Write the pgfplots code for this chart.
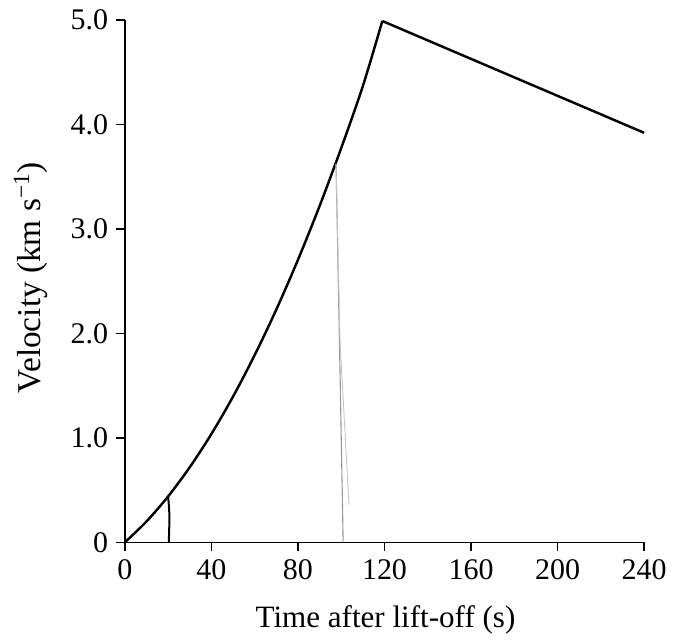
\documentclass[border=0pt]{standalone}
\usepackage{fontspec}
\setmainfont{Liberation Serif}
\usepackage{pgfplots}
\pgfplotsset{compat=1.18}

\begin{document}
\begin{tikzpicture}
\begin{axis}[
  scale only axis, width=234pt, height=235.4pt,
  xmin=0, xmax=240, ymin=0, ymax=5,
  axis lines=left, axis line style={-, line width=0.6pt},
  tick align=outside, major tick length=4pt,
  tick style={black, line width=0.6pt},
  xtick={0,40,80,120,160,200,240},
  ytick={0,1,2,3,4,5},
  yticklabels={0,1.0,2.0,3.0,4.0,5.0},
  /pgf/number format/assume math mode=true,
  tick label style={font=\fontsize{13.5}{15}\selectfont},
  label style={font=\fontsize{14}{16}\selectfont},
  xlabel={Time after lift-off (s)},
  ylabel={Velocity (km s\textsuperscript{\char"2212 1})},
  xlabel style={at={(rel axis cs:0.502,-0.1625)}, anchor=base},
  ylabel style={at={(rel axis cs:-0.181,0.507)}, anchor=center, font=\fontsize{15}{17}\selectfont},
  clip=false,
]
% bounding box matching the reference proportions
\path[use as bounding box] (rel axis cs:-0.2404,-0.174) rectangle (rel axis cs:1.0558,1.0382);
% velocity curve
\addplot[black, line width=1.1pt, smooth] coordinates {
  (0,0) (10,0.200) (20,0.440) (30,0.719) (40,1.037) (50,1.395)
  (60,1.792) (70,2.228) (80,2.704) (90,3.219) (100,3.774) (110,4.367) (119,4.99)
};
\addplot[black, line width=1.1pt] coordinates {(119,4.99) (240,3.92)};
% hand marks
\addplot[black, line width=0.9pt, smooth] coordinates {(20,0.44) (20.6,0.25) (20.3,0)};
\addplot[gray!80, line width=0.5pt] coordinates {(97.6,3.62) (99.3,1.8) (100.9,0)};
\addplot[gray!45, line width=0.4pt] coordinates {(97.6,3.62) (99.5,1.9) (103.6,0.36)};
\end{axis}
\end{tikzpicture}
\end{document}
